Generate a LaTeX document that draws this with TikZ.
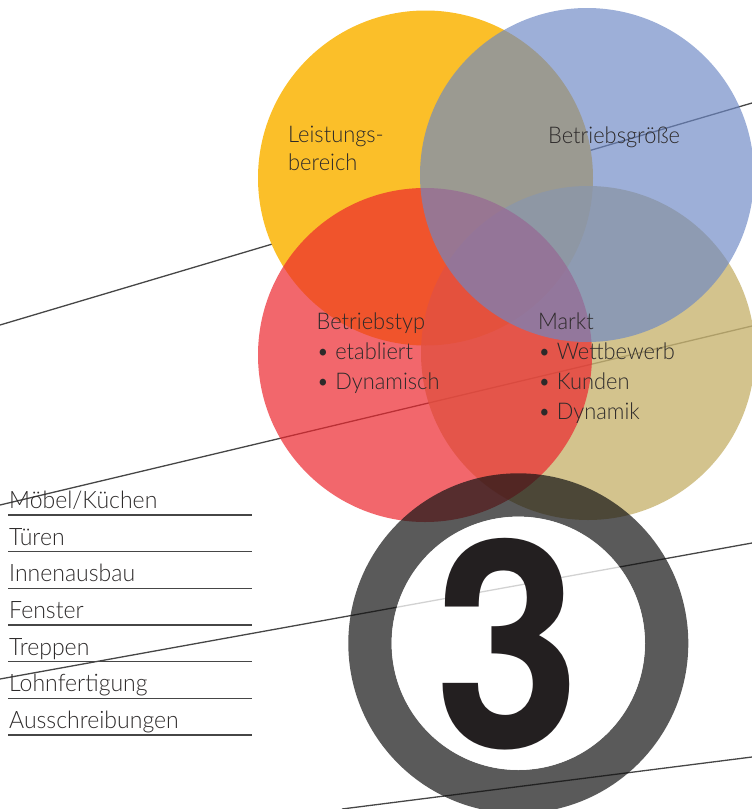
\documentclass[tikz,border=0pt]{standalone}
\usepackage{fontspec}
\setmainfont{Lato Light}
\newfontfamily\digitfont{TeX Gyre Heros}
\definecolor{cyellow}{RGB}{251,191,41}
\definecolor{colive}{RGB}{200,180,113}
\definecolor{cred}{RGB}{236,39,46}
\definecolor{cblue}{RGB}{109,136,197}
\definecolor{cring}{RGB}{20,20,20}
\definecolor{linec}{RGB}{70,70,70}
\definecolor{txtc}{RGB}{45,42,42}
\definecolor{digitc}{RGB}{35,31,32}
\begin{document}
\begin{tikzpicture}[x=1pt,y=-1pt,
  thinline/.style={draw=linec, line width=1.3pt},
  ruleline/.style={draw=linec, line width=1.1pt},
  lbl/.style={font=\fontsize{23}{28}\selectfont, text=txtc, inner sep=0pt, anchor=base west, xscale=0.95},
  listitem/.style={font=\fontsize{24}{28}\selectfont, text=txtc, inner sep=0pt, anchor=base west, xscale=0.96}]
\useasboundingbox (0,0) rectangle (752,809);
% decorative lines (under the circles)
\coordinate (l1a) at (0,325);   \coordinate (l1b) at (300,235.8);
\coordinate (l2a) at (560,159.3); \coordinate (l2b) at (752,103);
\coordinate (l3a) at (0,505);   \coordinate (l3b) at (752,326);
\coordinate (l4a) at (0,679);   \coordinate (l4b) at (752,543);
\coordinate (l5a) at (342,809); \coordinate (l5b) at (752,757);
\draw[thinline] (l1a) -- (l1b);
\draw[thinline] (l2a) -- (l2b);
\draw[thinline] (l3a) -- (l3b);
\draw[thinline] (l4a) -- (l4b);
\draw[thinline] (l5a) -- (l5b);
% circles
\fill[cyellow] (425.5,178) circle[radius=167.5pt];
\fill[colive, opacity=0.8] (588,353) circle[radius=167pt];
\fill[cred, opacity=0.7] (425,355) circle[radius=167pt];
\fill[cblue, opacity=0.67] (587,175) circle[radius=167pt];
% ring
\fill[cring, opacity=0.7, even odd rule] (518.3,643.3) circle[radius=170pt] (518.3,643.3) circle[radius=126.7pt];
\fill[white, opacity=0.76] (518.3,643.3) circle[radius=126.7pt];
\node[inner sep=0pt, anchor=base, text=digitc, font=\digitfont\bfseries\fontsize{289}{289}\selectfont, xscale=0.9] (three) at (508,747) {3};
% circle labels
\node[lbl] (lb1) at (288,142.7) {Leistungs-};
\node[lbl] (lb2) at (288,170.7) {bereich};
\node[lbl] (bg) at (548,143.3) {Betriebsgröße};
\node[lbl] (bt1) at (316.5,329.3) {Betriebstyp};
\node[lbl] (bt2) at (316.5,359.6) {• etabliert};
\node[lbl] (bt3) at (316.5,389.3) {• Dynamisch};
\node[lbl] (mk1) at (538,329.3) {Markt};
\node[lbl] (mk2) at (538,359.6) {• Wettbewerb};
\node[lbl] (mk3) at (538,389.3) {• Kunden};
\node[lbl] (mk4) at (538,419) {• Dynamik};
% list
\foreach \t [count=\i] in {Möbel/Küchen,Türen,Innenausbau,Fenster,Treppen,Lohnfertigung,Ausschreibungen}{
  \pgfmathsetmacro{\yy}{515+(\i-1)*36.67}
  \coordinate (ra\i) at (8,\yy);
  \coordinate (rb\i) at (252,\yy);
  \draw[ruleline] (ra\i) -- (rb\i);
  \node[listitem] (it\i) at (9,\yy-6.5) {\t};
}
\end{tikzpicture}
\end{document}
